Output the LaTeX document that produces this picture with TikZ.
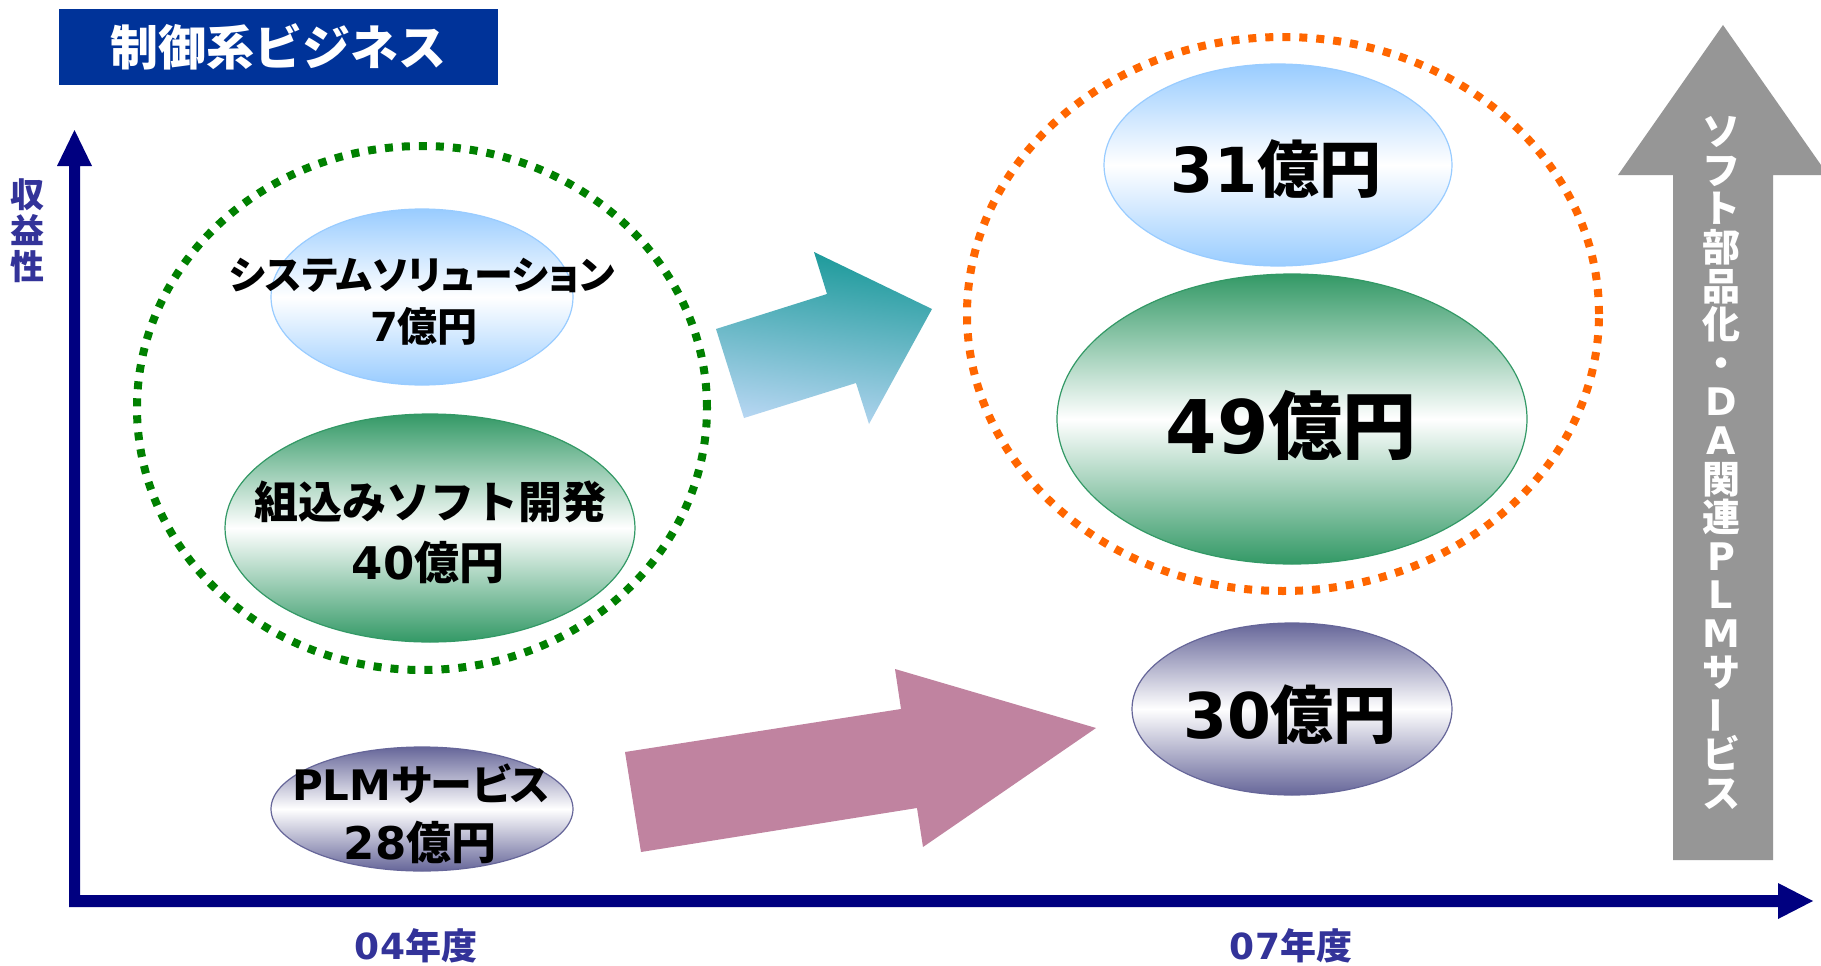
\documentclass[tikz,border=0pt]{standalone}
\usepackage{fontspec}
\usepackage{graphicx}
\usetikzlibrary{shapes.geometric}
\newfontfamily\jp{Noto Sans CJK JP}
\newfontfamily\jpp{Noto Sans CJK JP}[RawFeature=+palt]
\newfontfamily\lt{DejaVu Sans}
\newcommand\dv[1]{{\lt\bfseries #1}}
\definecolor{navy}{RGB}{0,0,128}
\definecolor{labc}{RGB}{51,51,153}
\definecolor{titlebg}{RGB}{0,51,153}
\definecolor{dgreen}{RGB}{0,128,0}
\definecolor{dorange}{RGB}{255,102,0}
\definecolor{lblue}{RGB}{153,204,255}
\definecolor{mgreen}{RGB}{51,153,102}
\definecolor{mpurple}{RGB}{102,102,153}
\definecolor{tealA}{RGB}{26,153,153}
\definecolor{tealB}{RGB}{182,214,242}
\definecolor{pinkA}{RGB}{192,131,160}
\definecolor{grayA}{RGB}{150,150,150}
\tikzset{
  dotring/.style={line width=8pt, dash pattern=on 8pt off 9pt},
  bubble/.style={ellipse, inner sep=0pt, line width=1.2pt, draw=#1, top color=#1, bottom color=#1, middle color=white},
  lbl/.style={inner sep=0pt, text=black},
}
\begin{document}
\begin{tikzpicture}[x=1pt,y=-1pt]
\useasboundingbox (0,0) rectangle (1821,966);
\fill[white] (0,0) rectangle (1821,966);

% title
\node[fill=titlebg, minimum width=439pt, minimum height=76pt, inner sep=0pt, anchor=north west] (title) at (59,9) {};
\node[text=white, inner sep=0pt, font={\jp\bfseries\fontsize{48}{48}\selectfont}] (titletext) at (title.center) {制御系ビジネス};

% axes
\fill[navy] (69,166) -- (69,907) -- (1778,907) -- (1778,919) -- (1813,901) -- (1778,883) -- (1778,895) -- (80,895) -- (80,166) -- (92,166) -- (74.5,130) -- (57,166) -- cycle;
\node[text=labc, inner sep=0pt, align=center, font={\jp\bfseries\fontsize{34}{36}\selectfont}] (ylab) at (27,231) {収\\益\\性};
\node[text=labc, inner sep=0pt, font={\jp\bfseries\fontsize{36}{36}\selectfont}] (x1) at (416,946) {\dv{04}年度};
\node[text=labc, inner sep=0pt, font={\jp\bfseries\fontsize{36}{36}\selectfont}] (x2) at (1291,946) {\dv{07}年度};

% dotted rings
\draw[dotring, dgreen] (422,408) ellipse [x radius=285pt, y radius=262pt];
\draw[dotring, dorange] (1283,314) ellipse [x radius=316pt, y radius=277pt];

% big arrows
\path[top color=tealA, bottom color=tealB, shading angle=-8] (744,418) -- (716,329) -- (827,294) -- (814,252) -- (932,309) -- (869,424) -- (856,383) -- cycle;
\fill[pinkA] (625,752) -- (901,709) -- (895,669) -- (1096,728) -- (923,847) -- (917,808) -- (641,852) -- cycle;
\fill[grayA] (1673,860) -- (1673,175) -- (1618,175) -- (1723,25) -- (1828,175) -- (1773,175) -- (1773,860) -- cycle;
\node[text=white, inner sep=0pt, align=center, font={\jp\bfseries\fontsize{38}{38.6}\selectfont}] (vtext) at (1721,463)
 {ソ\\フ\\ト\\部\\品\\化\\・\\\dv{D}\\\dv{A}\\関\\連\\\dv{P}\\\dv{L}\\\dv{M}\\サ\\\rotatebox[origin=c]{90}{ー}\\ビ\\ス};

% left bubbles
\node[bubble=lblue, minimum width=302pt, minimum height=176pt] (sys) at (422,297) {};
\node[lbl, font={\jpp\bfseries\fontsize{39}{39}\selectfont}] (sysa) at (422,275) {システムソリューション};
\node[lbl, font={\jp\bfseries\fontsize{40}{40}\selectfont}] (sysb) at (424,326) {\dv{7}億円};

\node[bubble=mgreen, minimum width=410pt, minimum height=228pt] (emb) at (430,528) {};
\node[lbl, font={\jp\bfseries\fontsize{44}{44}\selectfont}] (emba) at (430,502) {組込みソフト開発};
\node[lbl, font={\jp\bfseries\fontsize{45}{45}\selectfont}] (embb) at (428,562) {\dv{40}億円};

\node[bubble=mpurple, minimum width=302pt, minimum height=124pt] (plm) at (422,809) {};
\node[lbl, font={\jpp\bfseries\fontsize{42}{42}\selectfont}] (plma) at (421,784) {\dv{PLM}サービス};
\node[lbl, font={\jp\bfseries\fontsize{45}{45}\selectfont}] (plmb) at (420,842) {\dv{28}億円};

% right bubbles
\node[bubble=lblue, minimum width=348pt, minimum height=202pt] (r1) at (1278,165) {};
\node[lbl, font={\jp\bfseries\fontsize{62}{62}\selectfont}] (r1t) at (1276,169) {\dv{31}億円};

\node[bubble=mgreen, minimum width=470pt, minimum height=290pt] (r2) at (1292,419) {};
\node[lbl, font={\jp\bfseries\fontsize{74}{74}\selectfont}] (r2t) at (1291,425) {\dv{49}億円};

\node[bubble=mpurple, minimum width=320pt, minimum height=172pt] (r3) at (1292,709) {};
\node[lbl, font={\jp\bfseries\fontsize{63}{63}\selectfont}] (r3t) at (1290,715) {\dv{30}億円};
\end{tikzpicture}
\end{document}
